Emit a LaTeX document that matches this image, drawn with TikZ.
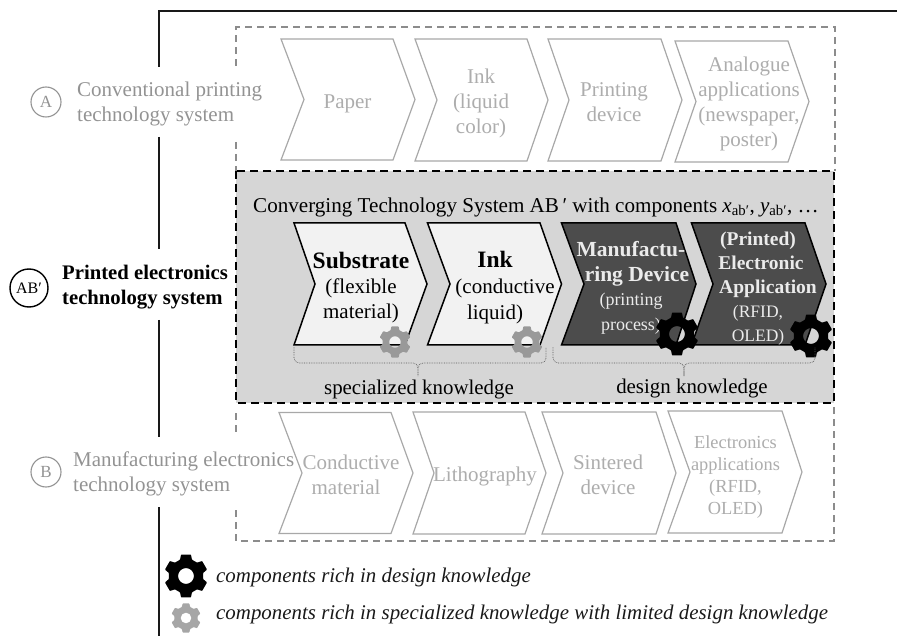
\documentclass[tikz,border=0pt]{standalone}
\usepackage{fontspec}
\setmainfont{Liberation Serif}
\newcommand{\fsz}[2]{\fontsize{#1}{#2}\selectfont}
% chevron: name, left, top-right, apex, notch, top, bottom, style
\newcommand{\chev}[8]{%
  \pgfmathsetmacro{\cmid}{(#6+#7)/2}%
  \draw[#8] (#2,#6) coordinate (#1-nw) -- (#3,#6) -- (#4,\cmid) coordinate (#1-tip) -- (#3,#7) -- (#2,#7) coordinate (#1-sw) -- (#5,\cmid) coordinate (#1-notch) -- cycle;}
% gear: x, y, radius, colour
\newcommand{\gearicon}[4]{%
  \begin{scope}[shift={(#1,#2)},scale=#3]
    \fill[#4,even odd rule,rounded corners=0.6pt] (10:0.79)
      \foreach \a in {30,90,150,210,270,330} {
        -- (\a-13:1) -- (\a+13:1) -- (\a+20:0.79) -- (\a+40:0.79)
      } -- cycle (0,0) circle (0.36);
  \end{scope}}
\definecolor{faint}{gray}{0.68}
\definecolor{faintline}{gray}{0.66}
\definecolor{dashgrey}{gray}{0.55}
\definecolor{panel}{gray}{0.84}
\definecolor{lightbox}{gray}{0.95}
\definecolor{darkbox}{gray}{0.30}
\tikzset{
  fainttext/.style={text=faint,align=center,inner sep=0pt,font=\fsz{21}{25}},
  faintlabel/.style={text=gray!85!white,align=left,anchor=west,inner sep=0pt,font=\fsz{21}{25}},
  chevfaint/.style={draw=faintline,line width=1.2pt,fill=white,line join=miter},
  chevlight/.style={draw=black,line width=1.5pt,fill=lightbox},
  chevdark/.style={draw=black,line width=1.5pt,fill=darkbox},
  frameline/.style={draw=black!90,line width=1.8pt},
  greydash/.style={draw=dashgrey,line width=1.1pt,dash pattern=on 7pt off 5pt},
  blackdash/.style={draw=black,line width=1.5pt,dash pattern=on 8pt off 5pt},
  brace/.style={draw=black!65,line width=0.7pt,densely dotted,rounded corners=5pt},
  ring/.style={circle,draw,line width=1.1pt,inner sep=0pt,text centered},
  legendtext/.style={anchor=west,inner sep=0pt,font=\fsz{20.9}{24}\itshape,text=black!90},
}
\begin{document}
\begin{tikzpicture}[x=1pt,y=-1pt]
\useasboundingbox (0,0) rectangle (897,636);
% outer frame
\coordinate (fr) at (897,11);
\coordinate (fc) at (159,11);
\coordinate (f1) at (159,67);
\coordinate (f2) at (159,137);
\coordinate (f3) at (159,249);
\coordinate (f4) at (159,320);
\coordinate (f5) at (159,437);
\coordinate (f6) at (159,507);
\coordinate (f7) at (159,636);
\draw[frameline] (fr) -- (fc) -- (f1) (f2) -- (f3) (f4) -- (f5) (f6) -- (f7);
% dashed boxes
\draw[greydash] (236,66) -- (236,27) -- (835,27) -- (835,171);
\draw[greydash] (236,142) -- (236,171);
\draw[greydash] (236,413) -- (236,435);
\draw[greydash] (236,510) -- (236,541) -- (834,541) -- (834,403);
\fill[panel] (236,171) rectangle (834,403);
\draw[blackdash] (236,171) rectangle (834,403);
% top row
\chev{paper}{281}{393}{415}{304}{39}{160}{chevfaint}
\chev{ink}{415}{527}{548}{437}{39}{161}{chevfaint}
\chev{print}{548}{661}{682}{569}{39}{161}{chevfaint}
\chev{analog}{675}{788}{809}{696}{41}{162}{chevfaint}
\node[fainttext] (tpaper) at (347.5,104) {Paper};
\node[fainttext] (tink) at (481,103.5) {Ink\\(liquid\\color)};
\node[fainttext] (tprint) at (614,102.5) {Printing\\device};
\node[fainttext] (tanalog) at (749,104) {Analogue\\applications\\(newspaper,\\poster)};
% bottom row
\chev{cond}{279}{391}{413}{302}{412.5}{533.5}{chevfaint}
\chev{litho}{413}{525}{546}{434}{412}{534}{chevfaint}
\chev{sinter}{542}{656}{676}{563}{412}{534}{chevfaint}
\chev{elec}{668}{782}{802}{690}{411}{533}{chevfaint}
\node[fainttext] (tcond) at (346,474.5) {\hspace*{10pt}Conductive\\material};
\node[fainttext] (tlitho) at (485,476) {Lithography};
\node[fainttext] (tsinter) at (608,474.5) {Sintered\\device};
\node[fainttext,font=\fsz{18.4}{22}] (telec) at (735.5,477) {Electronics\\applications\\(RFID,\\OLED)};
% middle row
\node[inner sep=0pt,anchor=west,font=\fsz{21.1}{24}] (head) at (253,207) {Converging Technology System AB\,′ with components \textit{x}\textsubscript{ab′}, \textit{y}\textsubscript{ab′}, …};
\chev{sub}{294}{405}{427}{315}{223}{345}{chevlight}
\chev{mink}{427.5}{540}{561.5}{450}{223}{345}{chevlight}
\chev{mfg}{561.5}{676}{696}{584}{223}{345}{chevdark}
\chev{app}{691.5}{805}{826}{713}{223}{345}{chevdark}
\node[inner sep=0pt,align=center,font=\fsz{21}{25}] (tsub) at (361,288) {\fontsize{23.5}{25}\selectfont\textbf{Substrate}\\(flexible\\material)};
\node[inner sep=0pt,align=center,font=\fsz{21}{26}] (tmink) at (495,287.5) {\fontsize{23.5}{26}\selectfont\textbf{Ink}\\\hspace*{20pt}(conductive\\liquid)};
\node[inner sep=0pt,align=center,text=white!92!black,font=\fsz{21.5}{24.5}] (tmfg) at (631,288) {\textbf{Manufactu-}\\\hspace*{12pt}\textbf{ring Device}\\{\fsz{18}{23.5}(printing}\\{\fsz{18}{21}process)}};
\node[inner sep=0pt,align=center,text=white!92!black,font=\fsz{19.5}{24}] (tapp) at (758,288.5) {\textbf{(Printed)}\\\hspace*{6pt}\textbf{Electronic}\\\hspace*{20pt}\textbf{Application}\\{\fsz{17.5}{22.5}(RFID,}\\{\fsz{17.5}{21}OLED)}};
\gearicon{395}{342}{16}{gray!80!white}
\gearicon{527}{342}{16}{gray!80!white}
\gearicon{677}{334}{22}{black}
\gearicon{811}{336}{22}{black}
% braces
\coordinate (b1a) at (294,347);
\coordinate (b1l) at (294,363);
\coordinate (b1t) at (418,379);
\coordinate (b1r) at (546,363);
\coordinate (b1b) at (546,347);
\coordinate (b2a) at (553,347);
\coordinate (b2l) at (553,363);
\coordinate (b2t) at (684,379);
\coordinate (b2r) at (815,363);
\coordinate (b2b) at (815,347);
\draw[brace] (b1a) -- (b1l) -- (418,363) -- (b1t) -- (418,363) -- (b1r) -- (b1b);
\draw[brace] (b2a) -- (b2l) -- (684,363) -- (b2t) -- (684,363) -- (b2r) -- (b2b);
\node[inner sep=0pt,font=\fsz{20.9}{24}] (tspec) at (419,390) {specialized knowledge};
\node[inner sep=0pt,font=\fsz{20.9}{24}] (tdes) at (692,389) {design knowledge};
% left labels
\node[ring,draw=gray!85!white,text=gray!85!white,minimum size=30pt,font=\fsz{17}{20}] (ca) at (46,102) {A};
\node[faintlabel] (la) at (77,103.5) {Conventional printing\\technology system};
\node[ring,draw=black,line width=1.4pt,minimum size=38pt,font=\fsz{16}{20}] (cab) at (29,288) {AB′};
\node[anchor=west,inner sep=0pt,align=left,font=\fsz{20.7}{25}\bfseries] (lab) at (62,287) {Printed electronics\\technology system};
\node[ring,draw=gray!85!white,text=gray!85!white,minimum size=30pt,font=\fsz{17}{20}] (cb) at (46,472) {B};
\node[faintlabel] (lb) at (73,474) {Manufacturing electronics\\technology system};
% legend
\gearicon{186}{576}{22}{black}
\gearicon{186}{618}{15}{gray!70!white}
\node[legendtext] (l1) at (216,577) {components rich in design knowledge};
\node[legendtext] (l2) at (216,614) {components rich in specialized knowledge with limited design knowledge};
\end{tikzpicture}
\end{document}
